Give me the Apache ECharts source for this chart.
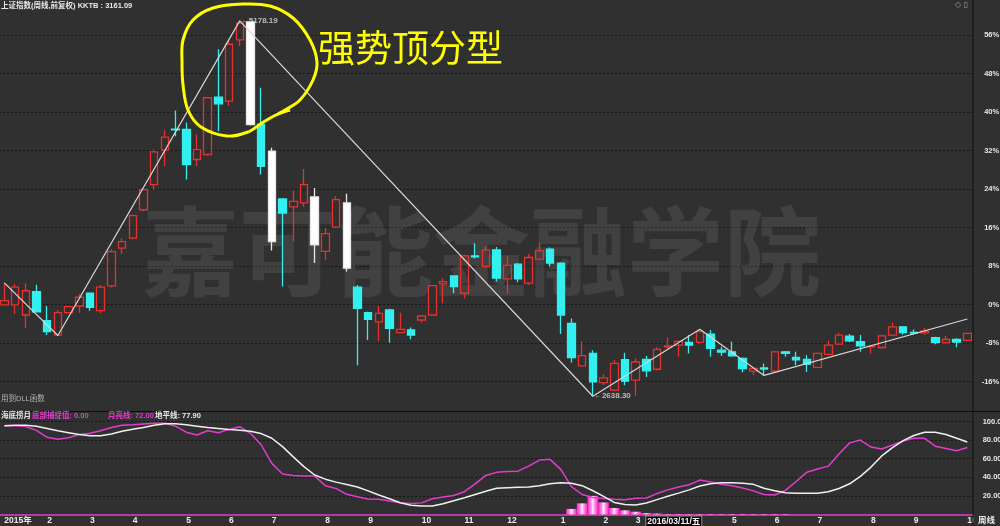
<!DOCTYPE html>
<html><head><meta charset="utf-8">
<script src="https://cdn.jsdelivr.net/npm/echarts@6/dist/echarts.min.js"></script>
<style>html,body{margin:0;padding:0;background:#303030}#c{width:1000px;height:526px}</style>
</head><body><div id="c"></div>
<script>
// ---------- data ----------
const dates = ['2015-01-09','2015-01-16','2015-01-23','2015-01-30','2015-02-06','2015-02-13','2015-02-17','2015-02-27','2015-03-06','2015-03-13',
'2015-03-20','2015-03-27','2015-04-03','2015-04-10','2015-04-17','2015-04-24','2015-04-30','2015-05-08','2015-05-15','2015-05-22',
'2015-05-29','2015-06-05','2015-06-12','2015-06-19','2015-06-26','2015-07-03','2015-07-10','2015-07-17','2015-07-24','2015-07-31',
'2015-08-07','2015-08-14','2015-08-21','2015-08-28','2015-09-02','2015-09-11','2015-09-18','2015-09-25','2015-09-30','2015-10-09',
'2015-10-16','2015-10-23','2015-10-30','2015-11-06','2015-11-13','2015-11-20','2015-11-27','2015-12-04','2015-12-11','2015-12-18',
'2015-12-25','2015-12-31','2016-01-08','2016-01-15','2016-01-22','2016-01-29','2016-02-05','2016-02-19','2016-02-26','2016-03-04',
'2016-03-11','2016-03-18','2016-03-25','2016-04-01','2016-04-08','2016-04-15','2016-04-22','2016-04-29','2016-05-06','2016-05-13',
'2016-05-20','2016-05-27','2016-06-03','2016-06-08','2016-06-17','2016-06-24','2016-07-01','2016-07-08','2016-07-15','2016-07-22',
'2016-07-29','2016-08-05','2016-08-12','2016-08-19','2016-08-26','2016-09-02','2016-09-09','2016-09-14','2016-09-23','2016-09-30',
'2016-10-14'];
const opens  = [3256,3256,3188,3346,3149,3052,3204,3249,3335,3217, 3385,3640,3708,3900,4070,4303,4445,4443,4240,4274,
                4662,4635,5049,5172,4477,4296,3973,3919,3946,3987, 3618,3783,3946,3376,3204,3142,3222,3068,3087,3154,
                3188,3398,3452,3335,3588,3516,3629,3432,3532,3403, 3566,3634,3539,3131,2844,2928,2730,2679,2885,2747,
                2887,2821,2972,2984,3002,3003,3059,2950,2939,2894, 2808,2830,2808,2939,2901,2887,2833,2921,2991,3045,
                3008,2972,2968,3052,3108,3070,3067,3034,3000,3022, 3016];
const highs  = [3405,3398,3403,3392,3249,3222,3250,3330,3340,3391, 3632,3708,3870,4040,4307,4438,4572,4490,4409,4660,
                4986,5051,5178.19,5176,4726,4319,3975,4031,4176,4048, 3776,3994,4008,3391,3210,3249,3230,3203,3104,3185,
                3391,3437,3456,3596,3674,3655,3648,3588,3540,3600, 3681,3644,3545,3165,3007,2950,2787,2883,2932,2894,
                2910,2970,3036,3013,3052,3091,3087,2973,3007,2900, 2835,2860,2946,2945,2939,2916,2935,3013,3068,3060,
                3052,2985,3055,3138,3112,3090,3100,3040,3045,3030, 3066];
const lows   = [3250,3195,3098,3205,3052,3049.11,3200,3203,3217,3199, 3372,3601,3700,3889,4036,4194,4398,4104,4194,4265,
                4432,4602,5008,4470,4138,3625,3380,3685,3919,3539, 3561,3776,3482,2848,3018,3013,3000,3064,3023,3135,
                3186,3267,3335,3301,3571,3510,3414,3330,3410,3391, 3560,3516,3060,2867,2837,2638.30,2714,2672,2713,2639,
                2769,2810,2962,2905,2928,2990,2905,2911,2905,2800, 2781,2779,2800,2905,2848,2803,2830,2915,2985,3005,
                2939,2928,2960,3045,3055,3055,3055,2990,2995,2969, 3014];
const closes = [3285,3376,3352,3210,3076,3204,3244,3308,3240,3376, 3617,3685,3860,4036,4292,4391,4441,4205,4307,4658,
                4617,5020,5163,4477,4194,3685,3878,3957,4070,3663, 3738,3968,3505,3233,3159,3199,3098,3091,3052,3181,
                3387,3414,3380,3588,3581,3629,3437,3523,3432,3577, 3622,3539,3188,2900,2913,2735,2763,2860,2740,2870,
                2810,2955,2979,3009,2984,3075,2962,2937,2912,2826, 2826,2822,2939,2928,2885,2855,2928,2984,3052,3013,
                2979,2976,3047,3108,3068,3065,3078,3002,3022,3005, 3063];
const whiteBars = ['2015-06-19','2015-07-03','2015-07-31','2015-08-21'];
const zigzagDates  = ['2015-01-09','2015-02-13','2015-06-12','2016-01-29','2016-04-15','2016-05-27','2016-10-14'];
const zigzagValues = [3405, 3049.11, 5178.19, 2638.30, 3091, 2779, 3161.09];
const moonLine = [95.5,95.5,94.5,90.5,83,80.9,82.5,86,87.3,90, 93.5,96,96.5,97.3,98,98.2,95,88.5,85.5,90,
                  88,91.5,94.4,87.3,75,55,43.5,42,41.4,41.4, 31,28,21.7,19,16.6,16.4,14.5,12.7,11.8,12.5,
                  17,18.7,20.5,24.5,33,42,45.3,46.3,46.6,52, 58.5,59.3,48.5,30,21.5,18.3,17.2,16.5,15.9,17.5,
                  17.8,22.5,26.5,29.5,32,37,35,32.6,30.8,28.5, 25.4,21.5,21,26,35.5,45.5,49,52,65,77,
                  80.1,72.5,70.5,74.7,79,81.9,81.9,73.5,71,68.5, 72];
const horizonLine = [95.5,96,96,95,92.5,90,88,86,84.7,84.7, 86.5,89.5,91.6,93.5,96,97.5,97.5,96.5,95,93.5,
                  92.6,91.3,90.5,89.5,87,82,73,62,51.5,42.5, 38,34.8,32.3,29.5,25.4,21,17,12.7,10,9.1,
                  9.1,11.5,14.8,18,21.5,25,28.2,28.8,29.3,29.6, 31,33,34.2,33.7,31,25.5,19.5,13,10.8,10.2,
                  12.3,16,19.6,23,26.5,30.6,33,34.2,34.2,33.5, 32.4,28.2,25.5,23.3,22.8,22.8,22.8,24.5,28,33,
                  41,51,63,72,79.5,85,88.5,88.5,86,82, 77.9];
const bottomCatch = [0,0,0,0,0,0,0,0,0,0, 0,0,0,0,0,0,0,0,0,0, 0,0,0,0,0,0,0,0,0,0,
                  0,0,0,0,0,0,0,0,0,0, 0,0,0,0,0,0,0,0,0,0, 0,0,0,6,12,20,13,7,4.5,3,
                  1.5,1,0.5,0.5,0.5,0.5,0.5,0.5,0.5,0.5, 0.5,0.5,0.5,0.4,0,0,0,0,0,0,
                  0,0,0,0,0,0,0,0,0,0, 0];
const tickDates = ['2015-01-09','2015-02-06','2015-03-06','2015-04-03','2015-05-08','2015-06-05','2015-07-03','2015-08-07','2015-09-02','2015-10-09','2015-11-06',
                   '2015-12-04','2016-01-08','2016-02-05','2016-03-04','2016-03-11','2016-05-06','2016-06-03','2016-07-01','2016-08-05','2016-09-02','2016-10-14'];
const tickTexts = ['2015年','2','3','4','5','6','7','8','9','10','11','12','1','2','3','2016/03/11/五','5','6','7','8','9','10'];
const P0 = 3258;          // price at 0%
const cursorPrice = 4027.0;

// ---------- styles ----------
const BG = '#303030';
const RED = '#e8302c', CYAN = '#33f0f0', MAG = '#e23ccf', WHITE = '#f0f0f0';
const FONT = '"Liberation Sans","Noto Sans CJK SC",sans-serif';
const GRIDC = '#161616';

const candleData = dates.map((d, i) => {
  const v = [opens[i], closes[i], lows[i], highs[i]];
  return whiteBars.includes(d) ? { value: v, itemStyle: { color0: '#ffffff', borderColor0: '#e8e8e8' } } : v;
});
const zigzag = dates.map(d => { const k = zigzagDates.indexOf(d); return k < 0 ? null : zigzagValues[k]; });
const extremes = [[zigzagDates[2], zigzagValues[2]], [zigzagDates[3], zigzagValues[3]]];

const chart = echarts.init(document.getElementById('c'), null, { renderer: 'canvas' });
const splitColorsMain = ['rgba(0,0,0,0)', GRIDC, GRIDC, GRIDC, GRIDC, GRIDC, GRIDC, GRIDC, GRIDC, GRIDC, GRIDC, 'rgba(0,0,0,0)'];
const fmt2 = v => v.toFixed(2);

chart.setOption({
  backgroundColor: BG,
  animation: false,
  textStyle: { fontFamily: FONT },
  grid: [
    { left: -1, right: 27.3, top: -3.5, height: 423.7, outerBoundsMode: 'none' },
    { left: -1, right: 27.3, top: 421.5, height: 93, outerBoundsMode: 'none' }
  ],
  xAxis: [
    { type: 'category', gridIndex: 0, data: dates, boundaryGap: true,
      axisLine: { show: false }, axisTick: { show: false }, axisLabel: { show: false }, splitLine: { show: false } },
    { type: 'category', gridIndex: 1, data: dates, boundaryGap: true,
      axisLine: { show: true, lineStyle: { color: MAG, width: 1.5 } }, axisTick: { show: false },
      axisLabel: { show: true, interval: 0, align: 'left', margin: 2, color: '#ececec', fontSize: 8.5, fontWeight: 'bold',
        fontFamily: FONT,
        formatter: (val) => { const k = tickDates.indexOf(val); if (k < 0) return '';
          const t = tickTexts[k]; return t.indexOf('/') >= 0 ? '{box|' + t + '}' : t; },
        rich: { box: { backgroundColor: '#000', borderColor: '#9a9a9a', borderWidth: 1, padding: [1, 1, 0, 1],
          color: '#f4f4f4', fontSize: 8.5, fontWeight: 'bold', fontFamily: FONT } } },
      splitLine: { show: false } }
  ],
  yAxis: [
    { type: 'value', gridIndex: 0, min: P0 * 0.76, max: P0 * 1.64, show: false, scale: true },
    { type: 'value', gridIndex: 0, position: 'right', min: -24, max: 64, interval: 8,
      axisLine: { show: false }, axisTick: { show: false },
      axisLabel: { align: 'right', margin: 26.5, color: '#e6e6e6', fontSize: 7.5, fontWeight: 'bold',
        formatter: v => (v === -24 || v === 64) ? '' : v + '%' },
      splitLine: { show: true, lineStyle: { color: splitColorsMain, type: [2, 2], width: 1 } } },
    { type: 'value', gridIndex: 1, position: 'right', min: 0, max: 100, interval: 20,
      axisLine: { show: false }, axisTick: { show: false },
      axisLabel: { align: 'left', margin: 10, color: '#e6e6e6', fontSize: 7.5, fontWeight: 'bold',
        formatter: v => v === 0 ? '' : fmt2(v) },
      splitLine: { show: true, lineStyle: { color: ['rgba(0,0,0,0)', GRIDC, GRIDC, GRIDC, GRIDC, GRIDC], type: [2, 2], width: 1 } } }
  ],
  series: [
    { name: 'extremes', type: 'scatter', xAxisIndex: 0, yAxisIndex: 0, z: 2, symbolSize: 0.1,
      data: extremes, silent: true,
      label: { show: true, position: 'right', distance: 1, color: '#dcdcdc', fontSize: 8, fontWeight: 'bold',
        formatter: p => '←' + p.value[1].toFixed(2) } },
    { name: 'K', type: 'candlestick', xAxisIndex: 0, yAxisIndex: 0, z: 3, barWidth: 8,
      data: candleData,
      itemStyle: { color: 'rgba(0,0,0,0)', color0: CYAN, borderColor: RED, borderColor0: CYAN, borderWidth: 1.3 },
      markLine: { silent: true, symbol: 'none', lineStyle: { opacity: 0 },
        data: [{ yAxis: cursorPrice }],
        label: { show: true, position: 'end', distance: 1, formatter: () => cursorPrice.toFixed(1),
          backgroundColor: '#000', color: '#f4f4f4', fontSize: 7.5, fontWeight: 'bold', padding: [1, 2, 0, 1] } } },
    { name: 'zigzag', type: 'line', xAxisIndex: 0, yAxisIndex: 0, z: 4, data: zigzag, connectNulls: true,
      symbol: 'none', lineStyle: { color: '#d6d6d6', width: 1.2 } },
    { name: '底部捕捉值', type: 'bar', xAxisIndex: 1, yAxisIndex: 2, data: bottomCatch, barCategoryGap: '0%', z: 2,
      itemStyle: { color: new echarts.graphic.LinearGradient(0, 0, 1, 0, [
        { offset: 0, color: '#ff1ec4' }, { offset: 0.35, color: '#ff9be8' }, { offset: 0.5, color: '#fff0fb' },
        { offset: 0.65, color: '#ff9be8' }, { offset: 1, color: '#ff1ec4' }]) } },
    { name: '月亮线', type: 'line', xAxisIndex: 1, yAxisIndex: 2, data: moonLine, symbol: 'none', z: 3,
      lineStyle: { color: MAG, width: 1.5 } },
    { name: '地平线', type: 'line', xAxisIndex: 1, yAxisIndex: 2, data: horizonLine, symbol: 'none', z: 4,
      lineStyle: { color: WHITE, width: 1.5 } }
  ],
  graphic: [
    { type: 'text', x: 142, y: 203, z: 1, silent: true,
      style: { text: '嘉可能金融学院', fontSize: 97, fontWeight: 'bold', fontFamily: '"Noto Sans CJK SC"', fill: 'rgba(255,255,255,0.085)' } },
    { type: 'line', z: 50, shape: { x1: 0, y1: 411.5, x2: 1000, y2: 411.5 }, style: { stroke: '#0e0e0e', lineWidth: 1 } },
    { type: 'line', z: 50, shape: { x1: 973, y1: 0, x2: 973, y2: 526 }, style: { stroke: '#0e0e0e', lineWidth: 1 } },
    { type: 'rect', z: 60, shape: { x: 973.5, y: 515.5, width: 27, height: 11 }, style: { fill: BG } },
    { type: 'text', x: 978, y: 516, z: 61, style: { text: '周线', fontSize: 8.5, fontWeight: 'bold', fill: '#ececec', fontFamily: FONT } },
    { type: 'text', x: 955, y: 1, z: 61, style: { text: '◇ ▯', fontSize: 8, fill: '#9a9a9a', fontFamily: 'DejaVu Sans' } },
    { type: 'text', x: 1, y: 2, z: 61, style: { text: '上证指数(周线,前复权) KKTB : ' + zigzagValues[zigzagValues.length - 1].toFixed(2),
      fontSize: 7.5, fontWeight: 'bold', fill: '#e8e8e8', fontFamily: FONT } },
    { type: 'text', x: 1, y: 395, z: 61, style: { text: '用到DLL函数', fontSize: 7.5, fill: '#b4b4b4', fontFamily: FONT } },
    { type: 'text', x: 1, y: 412.5, z: 61, style: { text: '海底捞月', fontSize: 7.5, fontWeight: 'bold', fill: '#e8e8e8', fontFamily: FONT } },
    { type: 'text', x: 32, y: 412.5, z: 61, style: { text: '底部捕捉值: ' + fmt2(bottomCatch[bottomCatch.length - 1]), fontSize: 7.5, fontWeight: 'bold', fill: MAG, fontFamily: FONT } },
    { type: 'text', x: 108, y: 412.5, z: 61, style: { text: '月亮线: ' + fmt2(moonLine[moonLine.length - 1]), fontSize: 7.5, fontWeight: 'bold', fill: MAG, fontFamily: FONT } },
    { type: 'text', x: 155, y: 412.5, z: 61, style: { text: '地平线: ' + fmt2(horizonLine[horizonLine.length - 1]), fontSize: 7.5, fontWeight: 'bold', fill: '#e8e8e8', fontFamily: FONT } },
    { type: 'polyline', z: 70, silent: true,
      shape: { smooth: 0.35, points: [[272,117],[285,110],[300,100],[313,80],[317,62],[310,40],[293,18],[270,6],[243,4],[213,8],[193,20],[183,40],[182,62],[183,85],[188,110],[201,127],[227,136],[248,132],[262,123],[276,115],[290,110]] },
      style: { stroke: '#ffff00', lineWidth: 3, fill: null } },
    { type: 'text', x: 318, y: 29, z: 70, style: { text: '强势顶分型', fontSize: 37, fill: '#ffff00', fontFamily: '"Noto Sans CJK SC"' } }
  ]
});
</script></body></html>
